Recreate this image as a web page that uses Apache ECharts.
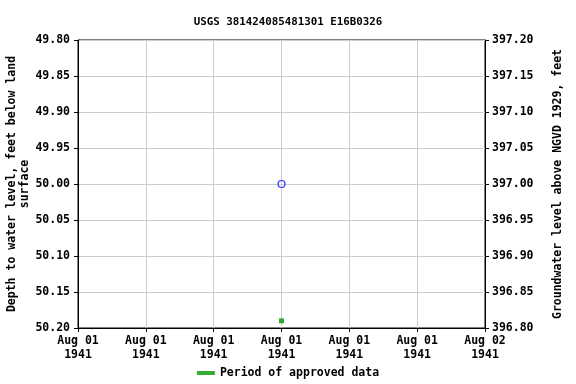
<!DOCTYPE html>
<html><head><meta charset="utf-8">
<script src="https://cdn.jsdelivr.net/npm/echarts@6/dist/echarts.min.js"></script>
<style>html,body{margin:0;padding:0;background:#fff}#c{width:576px;height:384px}</style>
</head><body><div id="c"></div>
<script>
const title = 'USGS 381424085481301 E16B0326';
const xTickLabels = ['Aug 01\n1941','Aug 01\n1941','Aug 01\n1941','Aug 01\n1941','Aug 01\n1941','Aug 01\n1941','Aug 02\n1941'];
const measHours = [12];
const measDepth = [50.00];
const approvedHours = [12];
const approvedDepth = [50.19];
const font = 'DejaVu Sans Mono';
const chart = echarts.init(document.getElementById('c'));
const lbl = {fontFamily: font, fontSize: 11.5, fontWeight: 'bold', color: '#000'};
chart.setOption({
  animation: false,
  title: {text: title, left: 'center', top: 12, textStyle: {fontFamily: font, fontSize: 10.8, fontWeight: 'bold', color: '#000'}},
  grid: {left: 78, right: 91, top: 40, bottom: 56, outerBoundsMode: 'none', containLabel: false,
    show: true, borderColor: '#000', borderWidth: 1, backgroundColor: 'transparent'},
  legend: {bottom: 0, left: 'center', itemWidth: 18, itemHeight: 4, itemGap: 6, textStyle: lbl,
    data: [{name: 'Period of approved data', icon: 'rect'}]},
  xAxis: {type: 'value', min: 0, max: 24, interval: 4,
    axisLine: {lineStyle: {color: '#000'}}, axisTick: {show: true, length: 4, lineStyle: {color: '#000'}},
    splitLine: {show: true, lineStyle: {color: '#ccc'}},
    axisLabel: Object.assign({}, lbl, {margin: 6, lineHeight: 14, formatter: (v) => xTickLabels[Math.round(v / 4)]})},
  yAxis: [
    {type: 'value', inverse: true, min: 49.8, max: 50.2, interval: 0.05,
     name: 'Depth to water level, feet below land\nsurface', nameLocation: 'middle', nameGap: 46, nameRotate: 90,
     nameMoveOverlap: false,
     nameTextStyle: Object.assign({}, lbl, {lineHeight: 13}),
     axisLine: {show: true, lineStyle: {color: '#000'}}, axisTick: {show: true, length: 4, lineStyle: {color: '#000'}},
     splitLine: {show: true, lineStyle: {color: '#ccc'}},
     axisLabel: Object.assign({}, lbl, {margin: 8, formatter: (v) => v.toFixed(2)})},
    {type: 'value', min: 396.8, max: 397.2, interval: 0.05,
     name: 'Groundwater level above NGVD 1929, feet', nameLocation: 'middle', nameGap: 67, nameRotate: 90,
     nameMoveOverlap: false,
     nameTextStyle: lbl,
     axisLine: {show: true, lineStyle: {color: '#000'}}, axisTick: {show: true, length: 4, lineStyle: {color: '#000'}},
     splitLine: {show: false},
     axisLabel: Object.assign({}, lbl, {margin: 7, formatter: (v) => v.toFixed(2)})}
  ],
  series: [
    {type: 'scatter', name: 'meas', yAxisIndex: 0, symbol: 'circle', symbolSize: 7,
     itemStyle: {color: 'rgba(0,0,0,0)', borderColor: '#0000ff', borderWidth: 1.2},
     data: measHours.map((h, i) => [h, measDepth[i]])},
    {type: 'scatter', name: 'Period of approved data', yAxisIndex: 0, symbol: 'rect', symbolSize: 5,
     itemStyle: {color: '#009900'},
     data: approvedHours.map((h, i) => [h, approvedDepth[i]])}
  ]
});
</script></body></html>
